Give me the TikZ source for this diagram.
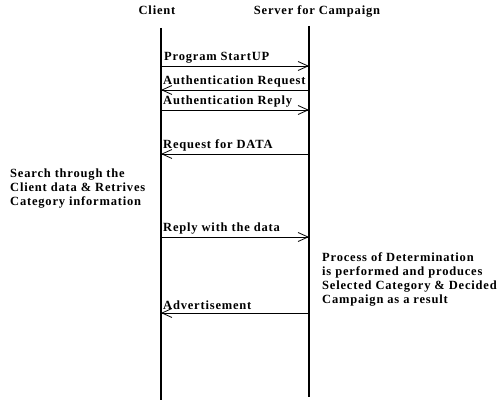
\documentclass[tikz,border=0pt]{standalone}
\usepackage{fontspec}
\setmainfont{Liberation Serif}
\newfontfamily\diafont[LetterSpace=6.5]{Liberation Serif}
\usetikzlibrary{arrows.meta}

\tikzset{
  lifeline/.style={line width=1.6pt},
  msg/.style={line width=0.8pt,-{Straight Barb[length=10pt,width=9pt,line width=0.8pt]}},
  msglabel/.style={anchor=south west,inner sep=0pt,font=\diafont\bfseries\fontsize{12.5}{14}\selectfont},
  note/.style={anchor=north west,inner sep=0pt,align=left,font=\diafont\bfseries\fontsize{12.5}{14}\selectfont}
}

\begin{document}
\begin{tikzpicture}[x=1pt,y=-1pt]
        \useasboundingbox (0,0) rectangle (501,404);
        % Kopfzeile
        \node[msglabel,anchor=base] (client) at (157,15) {Client};
        \node[msglabel,anchor=base] (server) at (317,15) {Server for Campaign};
        % Lebenslinien
        \coordinate (ctop) at (161,28);
        \coordinate (cbot) at (161,400);
        \coordinate (stop) at (309,26);
        \coordinate (sbot) at (309,397);
        \draw[lifeline] (ctop) -- (cbot);
        \draw[lifeline] (stop) -- (sbot);
        % Nachrichten
        \coordinate (c1) at (161,66);  \coordinate (s1) at (309,66);
        \coordinate (c2) at (161,90);  \coordinate (s2) at (309,90);
        \coordinate (c3) at (161,110); \coordinate (s3) at (309,110);
        \coordinate (c4) at (161,154); \coordinate (s4) at (309,154);
        \coordinate (c5) at (161,237); \coordinate (s5) at (309,237);
        \coordinate (c6) at (161,313); \coordinate (s6) at (309,313);
        \draw[msg] (c1) -- (s1);
        \node[msglabel] (m1) at (164,63) {Program StartUP};
        \draw[msg] (s2) -- (c2);
        \node[msglabel] (m2) at (163,87) {Authentication Request};
        \draw[msg] (c3) -- (s3);
        \node[msglabel] (m3) at (163,107) {Authentication Reply};
        \draw[msg] (s4) -- (c4);
        \node[msglabel] (m4) at (163,151) {Request for DATA};
        \draw[msg] (c5) -- (s5);
        \node[msglabel] (m5) at (163,234) {Reply with the data};
        \draw[msg] (s6) -- (c6);
        \node[msglabel] (m6) at (163,310) {Advertisement};
        % Bemerkungen
        \node[note] (search) at (10,169) {Search through the\\Client data \& Retrives\\Category information};
        \node[note] (process) at (322,252) {Process of Determination\\is performed and produces\\Selected Category \& Decided\\Campaign as a result};
\end{tikzpicture}
\end{document}
